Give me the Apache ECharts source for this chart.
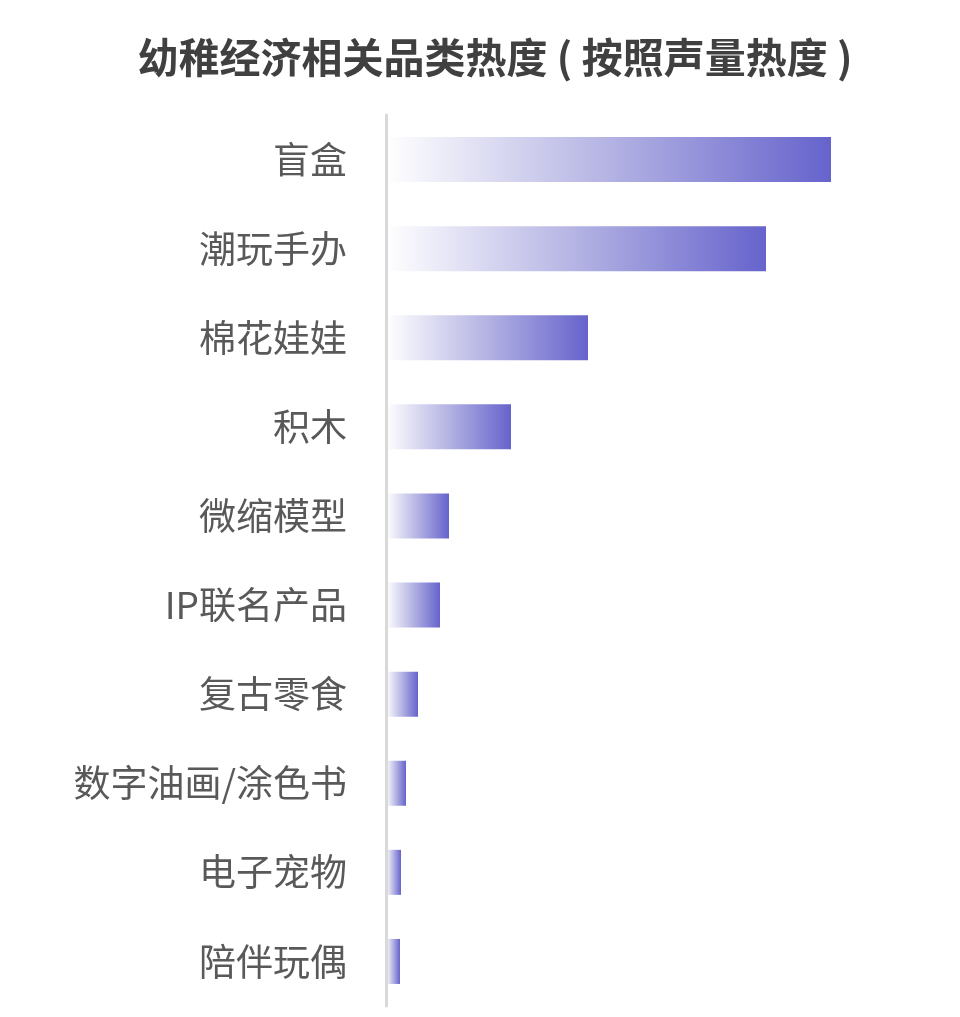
<!DOCTYPE html>
<html>
<head>
<meta charset="utf-8">
<script src="https://cdn.jsdelivr.net/npm/echarts@6/dist/echarts.min.js"></script>
<style>
html,body{margin:0;padding:0;background:#fff;}
#chart{width:960px;height:1017px;}
</style>
</head>
<body>
<div id="chart"></div>
<script>
const titleText = '幼稚经济相关品类热度 ( 按照声量热度 )';
const categories = ['盲盒','潮玩手办','棉花娃娃','积木','微缩模型','IP联名产品','复古零食','数字油画/涂色书','电子宠物','陪伴玩偶'];
const heatValues = [445, 380, 202, 125, 63, 54, 32, 20, 15, 14];

const chart = echarts.init(document.getElementById('chart'));
chart.setOption({
  backgroundColor: '#ffffff',
  animation: false,
  title: {
    text: titleText,
    left: 490,
    textAlign: 'center',
    top: 32,
    textStyle: {
      fontFamily: 'Noto Sans CJK SC',
      fontSize: 41,
      fontWeight: 'bold',
      color: '#404040'
    }
  },
  grid: { left: 386, right: 74, top: 115, bottom: 11, containLabel: false },
  xAxis: {
    type: 'value',
    min: 0,
    max: 500,
    show: false
  },
  yAxis: {
    type: 'category',
    inverse: true,
    data: categories,
    z: 5,
    axisLine: { show: true, lineStyle: { color: '#d9d9d9', width: 3 } },
    axisTick: { show: false },
    axisLabel: {
      margin: 39,
      fontFamily: 'Noto Sans CJK SC',
      fontSize: 37,
      color: '#595959'
    },
    splitLine: { show: false }
  },
  series: [{
    type: 'bar',
    data: heatValues,
    barWidth: 45,
    itemStyle: {
      color: {
        type: 'linear', x: 0, y: 0, x2: 1, y2: 0,
        colorStops: [
          { offset: 0, color: 'rgba(255,255,255,1)' },
          { offset: 0.5, color: '#b4b3e3' },
          { offset: 1, color: '#6663cc' }
        ]
      }
    }
  }]
});
</script>
</body>
</html>
